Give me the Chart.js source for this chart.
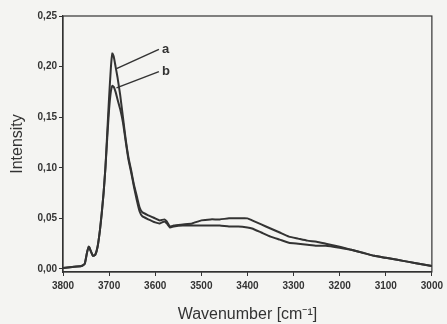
<!DOCTYPE html>
<html>
<head>
<meta charset="utf-8">
<script src="https://cdn.jsdelivr.net/npm/chart.js@4"></script>
<style>
  html, body { margin: 0; padding: 0; background: #f4f4f2; }
  #wrap { width: 447px; height: 324px; }
</style>
</head>
<body>
<div id="wrap"><canvas id="ir-chart" width="447" height="324"></canvas></div>
<script>
// wavenumbers in cm-1
const wavenumbers = [3800, 3780, 3760, 3753, 3748, 3744, 3740, 3735, 3730, 3725, 3720, 3716, 3712, 3708, 3704, 3700, 3696, 3693, 3690, 3686, 3682, 3676, 3670, 3664, 3658, 3652, 3646, 3640, 3634, 3628, 3615, 3600, 3590, 3580, 3575, 3568, 3560, 3540, 3520, 3500, 3480, 3460, 3440, 3420, 3400, 3390, 3370, 3350, 3330, 3310, 3290, 3270, 3250, 3230, 3200, 3175, 3150, 3125, 3100, 3075, 3050, 3025, 3000];

const spectrumA = [0.001, 0.002, 0.003, 0.005, 0.016, 0.022, 0.018, 0.013, 0.014, 0.022, 0.038, 0.055, 0.075, 0.100, 0.135, 0.170, 0.200, 0.213, 0.210, 0.200, 0.190, 0.172, 0.150, 0.128, 0.110, 0.097, 0.083, 0.072, 0.061, 0.056, 0.053, 0.050, 0.048, 0.049, 0.047, 0.042, 0.043, 0.044, 0.045, 0.048, 0.049, 0.049, 0.050, 0.050, 0.050, 0.048, 0.044, 0.040, 0.036, 0.032, 0.030, 0.028, 0.027, 0.025, 0.022, 0.019, 0.016, 0.013, 0.011, 0.009, 0.007, 0.005, 0.003];

const spectrumB = [0.001, 0.002, 0.003, 0.005, 0.016, 0.022, 0.018, 0.013, 0.014, 0.022, 0.038, 0.055, 0.075, 0.100, 0.130, 0.158, 0.176, 0.181, 0.180, 0.175, 0.168, 0.158, 0.145, 0.126, 0.108, 0.095, 0.081, 0.068, 0.057, 0.052, 0.049, 0.046, 0.045, 0.047, 0.045, 0.041, 0.042, 0.043, 0.043, 0.043, 0.043, 0.043, 0.042, 0.042, 0.041, 0.040, 0.036, 0.032, 0.029, 0.026, 0.025, 0.024, 0.023, 0.023, 0.021, 0.019, 0.016, 0.013, 0.011, 0.009, 0.007, 0.005, 0.003];

// curve labels: text, label anchor (wn, value), pointer end on the curve (wn, value)
const curveLabels = ['a', 'b'];
const labelAnchors = [[3592, 0.217], [3592, 0.195]];
const pointerEnds = [[3684, 0.198], [3684, 0.179]];

const yTicks = [0, 0.05, 0.10, 0.15, 0.20, 0.25];
const xTicks = [3800, 3700, 3600, 3500, 3400, 3300, 3200, 3100, 3000];

const INK = '#333333';
const FONT = "'Liberation Sans', Arial, sans-serif";

function toPoints(ys) {
    return wavenumbers.map((w, i) => ({ x: w, y: ys[i] }));
}

// frame around the plot plus the a/b pointer labels
const framePlugin = {
    id: 'frame',
    afterDatasetsDraw(chart) {
        const { ctx, chartArea, scales } = chart;
        ctx.save();
        ctx.strokeStyle = INK;
        ctx.lineWidth = 1.2;
        ctx.strokeRect(chartArea.left, chartArea.top, chartArea.right - chartArea.left, chartArea.bottom - chartArea.top);

        ctx.lineWidth = 1.5;
        ctx.fillStyle = INK;
        ctx.font = 'bold 13px ' + FONT;
        ctx.textBaseline = 'middle';
        ctx.textAlign = 'left';
        curveLabels.forEach((txt, i) => {
            const x0 = scales.x.getPixelForValue(labelAnchors[i][0]);
            const y0 = scales.y.getPixelForValue(labelAnchors[i][1]);
            const x1 = scales.x.getPixelForValue(pointerEnds[i][0]);
            const y1 = scales.y.getPixelForValue(pointerEnds[i][1]);
            ctx.beginPath();
            ctx.moveTo(x0, y0);
            ctx.lineTo(x1, y1);
            ctx.stroke();
            ctx.fillText(txt, x0 + 3, y0);
        });
        ctx.restore();
    }
};

function initChart() {
    const ctx = document.getElementById('ir-chart').getContext('2d');
    new Chart(ctx, {
        type: 'line',
        data: {
            datasets: [
                { label: 'a', data: toPoints(spectrumA), borderColor: INK, borderWidth: 2, pointRadius: 0, tension: 0.15 },
                { label: 'b', data: toPoints(spectrumB), borderColor: INK, borderWidth: 2, pointRadius: 0, tension: 0.15 }
            ]
        },
        options: {
            responsive: false,
            animation: false,
            layout: { padding: { left: 0, right: 10, top: 16, bottom: 0 } },
            plugins: { legend: { display: false }, tooltip: { enabled: false } },
            scales: {
                x: {
                    type: 'linear',
                    reverse: true,
                    min: 3000,
                    max: 3800,
                    afterBuildTicks: s => { s.ticks = xTicks.map(v => ({ value: v })); },
                    afterFit: s => { s.height = 52; },
                    grid: { drawOnChartArea: false, drawTicks: true, tickLength: 4, color: INK },
                    border: { color: INK, width: 1.2 },
                    ticks: {
                        color: INK,
                        padding: 4,
                        maxRotation: 0,
                        font: { family: FONT, size: 10, weight: 'bold' },
                        callback: v => String(v)
                    },
                    title: { display: true, text: 'Wavenumber [cm⁻¹]', color: INK, padding: { top: 0, bottom: 0 }, font: { family: FONT, size: 16 } }
                },
                y: {
                    min: -0.003,
                    max: 0.25,
                    afterBuildTicks: s => { s.ticks = yTicks.map(v => ({ value: v })); },
                    afterFit: s => { s.width = 63; },
                    grid: { drawOnChartArea: false, drawTicks: true, tickLength: 4, color: INK },
                    border: { color: INK, width: 1.2 },
                    ticks: {
                        color: INK,
                        padding: 2,
                        font: { family: FONT, size: 10, weight: 'bold' },
                        callback: v => v.toFixed(2).replace('.', ',')
                    },
                    title: { display: true, text: 'Intensity', color: INK, padding: { top: 8, bottom: 0 }, font: { family: FONT, size: 16 } }
                }
            }
        },
        plugins: [framePlugin]
    });
}

document.addEventListener('DOMContentLoaded', initChart);
</script>
</body>
</html>
